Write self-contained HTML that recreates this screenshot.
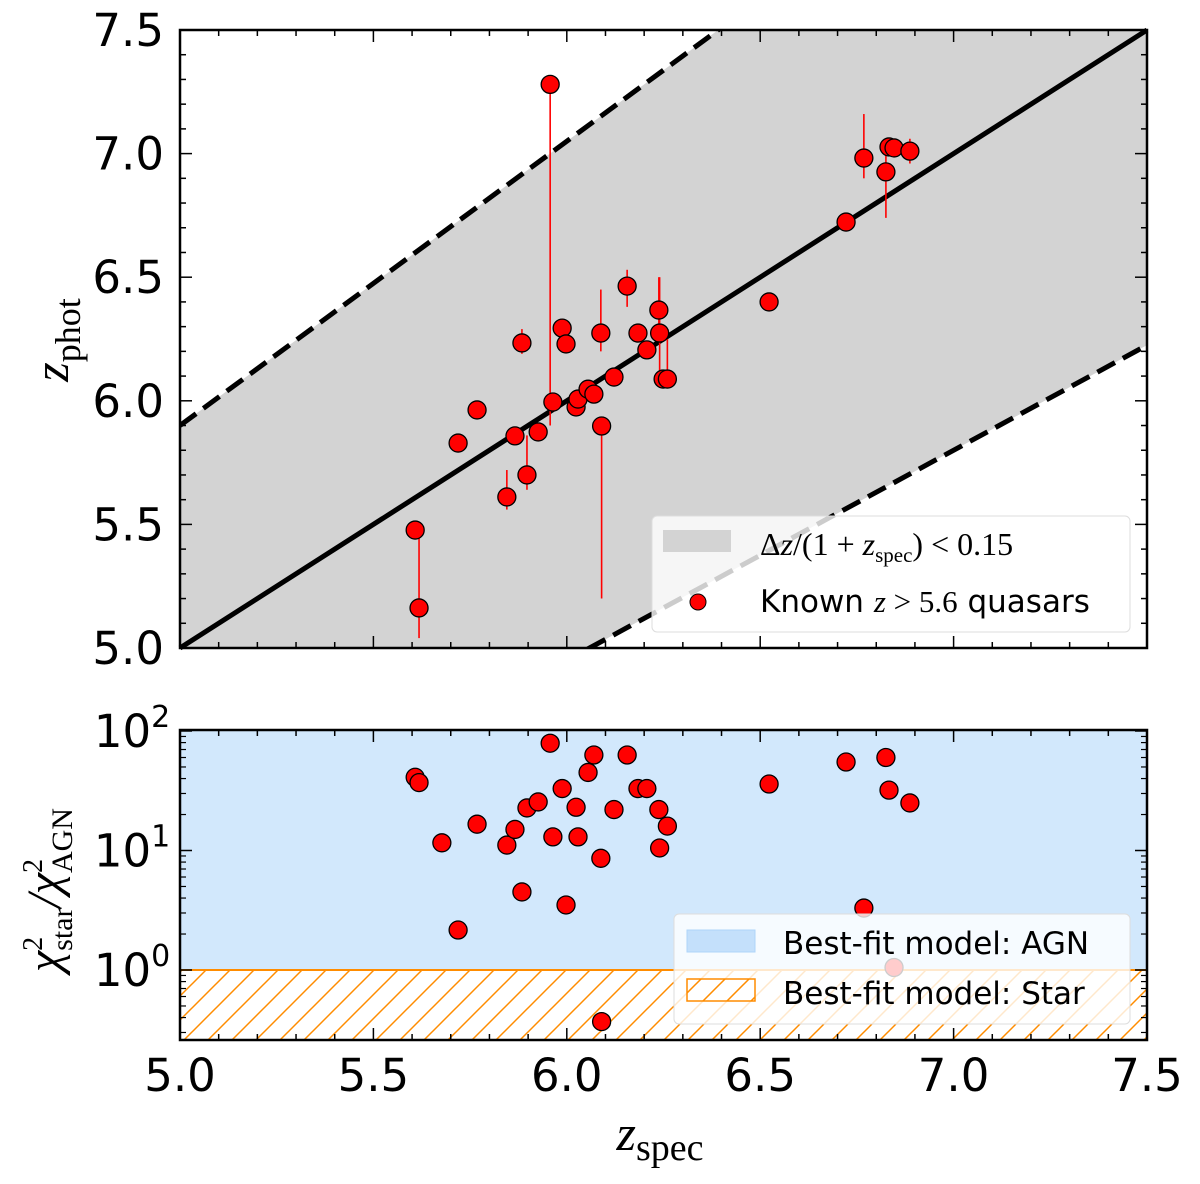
<!DOCTYPE html>
<html><head><meta charset="utf-8"><style>
body{margin:0;background:#fff}
svg text{font-family:"DejaVu Sans","Liberation Sans",sans-serif}
</style></head><body>
<svg id="chart" width="1200" height="1179" viewBox="0 0 1200 1179" xmlns="http://www.w3.org/2000/svg">
<defs>
<pattern id="hatch" patternUnits="userSpaceOnUse" width="24" height="24">
<path d="M0,24 L24,0 M-6,6 L6,-6 M18,30 L30,18" stroke="#ff8c00" stroke-width="1.5"/>
</pattern>
<clipPath id="clipTop"><rect x="180" y="30" width="967" height="618"/></clipPath>
<clipPath id="clipBot"><rect x="180" y="730" width="967" height="310"/></clipPath>
</defs>
<g id="topPanel"></g>
<g id="botPanel"></g>
</svg>
<script>
const zspec = [5.608,5.618,5.719,5.768,5.845,5.866,5.884,5.897,5.926,5.957,5.964,5.988,5.998,6.024,6.029,6.055,6.070,6.088,6.090,6.122,6.156,6.184,6.207,6.238,6.240,6.249,6.260,6.523,6.722,6.768,6.825,6.833,6.846,6.887];
const zphot = [5.477,5.162,5.829,5.963,5.611,5.858,6.234,5.700,5.874,7.280,5.995,6.294,6.230,5.975,6.007,6.047,6.027,6.274,5.898,6.096,6.464,6.274,6.206,6.367,6.274,6.088,6.088,6.400,6.723,6.982,6.926,7.027,7.023,7.010];
const errLo = [5.477,5.040,5.829,5.963,5.560,5.858,6.190,5.640,5.874,5.900,5.995,6.294,6.230,5.975,6.007,6.047,6.027,6.200,5.200,6.096,6.380,6.274,6.206,6.300,6.100,6.088,6.060,6.400,6.723,6.900,6.740,7.027,7.023,6.960];
const errHi = [5.477,5.500,5.829,5.963,5.720,5.858,6.290,5.860,5.874,7.280,5.995,6.294,6.230,5.975,6.007,6.047,6.027,6.450,5.898,6.096,6.530,6.274,6.206,6.500,6.500,6.088,6.250,6.400,6.723,7.160,7.000,7.027,7.023,7.060];
const chiZ = [5.608,5.618,5.719,5.768,5.845,5.866,5.884,5.897,5.926,5.957,5.964,5.988,5.998,6.024,6.029,6.055,6.070,6.088,6.090,6.122,6.156,6.184,6.207,6.238,6.240,5.677,6.260,6.523,6.722,6.768,6.825,6.833,6.846,6.887];
const chiRatio = [41,37,2.16,16.6,11.1,15,4.5,22.7,25.5,79,13,33,3.5,23,13,45,63,8.6,0.37,22,63,33,33,22,10.5,11.6,16,36,55,3.3,60,32,1.05,25];
const xTicks = ["5.0","5.5","6.0","6.5","7.0","7.5"];
const yTicksTop = ["5.0","5.5","6.0","6.5","7.0","7.5"];
const yTicksBotExp = [0,1,2];

const NS="http://www.w3.org/2000/svg";
const X0=180,X1=1147,TY0=30,TY1=648,BY0=730,BY1=1040;
const xs=v=>X0+(v-5)/2.5*(X1-X0);
const yt=v=>TY1-(v-5)/2.5*(TY1-TY0);
const DEC=119.5;
const yb=v=>(BY0+1)+(2-Math.log10(v))*DEC;
const SERIF='font-family:"Liberation Serif","DejaVu Serif",serif;';
function mk(tag,attrs,parent,text){const e=document.createElementNS(NS,tag);for(const k in attrs)e.setAttribute(k,attrs[k]);if(text!==undefined)e.textContent=text;parent.appendChild(e);return e;}
const topG=document.getElementById('topPanel'),botG=document.getElementById('botPanel');

const band=mk('polygon',{points:[[5,5+0.15*6],[7.5,7.5+0.15*8.5],[7.5,7.5-0.15*8.5],[5,5-0.15*6]].map(p=>xs(p[0])+','+yt(p[1])).join(' '),fill:'#d3d3d3','clip-path':'url(#clipTop)'},topG);


const up=mk('line',{x1:xs(5),y1:yt(5.9),x2:xs(7.5),y2:yt(7.5+0.15*8.5),stroke:'#000','stroke-width':5,'stroke-dasharray':'20,9','clip-path':'url(#clipTop)'},topG);


const lo=mk('line',{x1:xs(5),y1:yt(4.1),x2:xs(7.5),y2:yt(7.5-0.15*8.5),stroke:'#000','stroke-width':5,'stroke-dasharray':'20,9','clip-path':'url(#clipTop)'},topG);


const one=mk('line',{x1:xs(5),y1:yt(5),x2:xs(7.5),y2:yt(7.5),stroke:'#000','stroke-width':5},topG);


for(let i=0;i<zspec.length;i++){
  const e=mk('line',{x1:xs(zspec[i]),x2:xs(zspec[i]),y1:yt(errLo[i]),y2:yt(errHi[i]),stroke:'#f00','stroke-width':1.6},topG);
  
  
}
for(let i=0;i<zspec.length;i++){
  const c=mk('circle',{cx:xs(zspec[i]),cy:yt(zphot[i]),r:9,fill:'#f00',stroke:'#000','stroke-width':1.3},topG);
  
  
}
const lg=mk('g',{},topG);


mk('rect',{x:652,y:516,width:478,height:116,rx:5,fill:'#fff','fill-opacity':0.8,stroke:'#ddd'},lg);
mk('rect',{x:663,y:530,width:68,height:22,fill:'#d3d3d3'},lg);
const l1=mk('text',{x:760,y:555,'font-size':32,style:SERIF},lg);
l1.innerHTML='Δ<tspan font-style="italic">z</tspan>/(1 + <tspan font-style="italic">z</tspan><tspan font-size="21" dy="7">spec</tspan><tspan dy="-7">) &lt; 0.15</tspan>';
mk('circle',{cx:698,cy:602,r:8,fill:'#f00',stroke:'#000','stroke-width':1},lg);
const l2=mk('text',{x:760,y:612,'font-size':31},lg);
l2.innerHTML='Known <tspan style=\'font-family:"Liberation Serif",serif\' font-style="italic">z</tspan><tspan style=\'font-family:"Liberation Serif",serif\'> &gt; 5.6</tspan> quasars';
const ft=mk('rect',{x:X0,y:TY0,width:X1-X0,height:TY1-TY0,fill:'none',stroke:'#000','stroke-width':2.5},topG);



const agn=mk('rect',{x:X0,y:BY0,width:X1-X0,height:yb(1)-BY0,fill:'#d2e8fc'},botG);


const star=mk('rect',{x:X0,y:yb(1),width:X1-X0,height:BY1-yb(1),fill:'url(#hatch)'},botG);


mk('line',{x1:X0,x2:X1,y1:yb(1),y2:yb(1),stroke:'#ff8c00','stroke-width':2},botG);
for(let i=0;i<chiZ.length;i++){
  const c=mk('circle',{cx:xs(chiZ[i]),cy:yb(chiRatio[i]),r:9,fill:'#f00',stroke:'#000','stroke-width':1.3,'clip-path':'url(#clipBot)'},botG);
  
  
}
const lb=mk('g',{},botG);


mk('rect',{x:674,y:914,width:456,height:110,rx:5,fill:'#fff','fill-opacity':0.8,stroke:'#ddd'},lb);
mk('rect',{x:687,y:930,width:68,height:22,fill:'#c4e0fb',stroke:'#aed4fa'},lb);
mk('text',{x:783,y:954,'font-size':31},lb,'Best-fit model: AGN');
mk('rect',{x:687,y:979,width:68,height:22,fill:'url(#hatch)',stroke:'#ff8c00','stroke-width':1.5},lb);
mk('text',{x:783,y:1004,'font-size':31},lb,'Best-fit model: Star');
const fb=mk('rect',{x:X0,y:BY0,width:X1-X0,height:BY1-BY0,fill:'none',stroke:'#000','stroke-width':2.5},botG);



for(let k=0;k<=25;k++){
  const v=5+k*0.1;
  const maj=(k%5===0);const L=maj?12:6;const x=xs(v);
  mk('line',{x1:x,x2:x,y1:TY1,y2:TY1-L,stroke:'#000','stroke-width':1.5},topG);
  mk('line',{x1:x,x2:x,y1:TY0,y2:TY0+L,stroke:'#000','stroke-width':1.5},topG);
  mk('line',{x1:x,x2:x,y1:BY1,y2:BY1-L,stroke:'#000','stroke-width':1.5},botG);
  mk('line',{x1:x,x2:x,y1:BY0,y2:BY0+L,stroke:'#000','stroke-width':1.5},botG);
  const y=yt(v);
  mk('line',{x1:X0,x2:X0+L,y1:y,y2:y,stroke:'#000','stroke-width':1.5},topG);
  mk('line',{x1:X1,x2:X1-L,y1:y,y2:y,stroke:'#000','stroke-width':1.5},topG);
}
yTicksTop.forEach(t=>{const e=mk('text',{x:164,y:yt(+t)+16,'font-size':45,'text-anchor':'end'},topG,t);
  
  });
const ylab=mk('text',{x:0,y:0,transform:'translate(68,340) rotate(-90)','text-anchor':'middle',style:SERIF},topG);


ylab.innerHTML='<tspan font-style="italic" font-size="50">z</tspan><tspan font-size="36" dy="12">phot</tspan>';

yTicksBotExp.forEach(p=>{const y=yb(Math.pow(10,p));
  mk('line',{x1:X0,x2:X0+12,y1:y,y2:y,stroke:'#000','stroke-width':1.5},botG);
  mk('line',{x1:X1,x2:X1-12,y1:y,y2:y,stroke:'#000','stroke-width':1.5},botG);
  const t=mk('text',{x:132,y:y+16,'font-size':45,'text-anchor':'middle'},botG);
  
  
  t.innerHTML='10<tspan font-size="30" dy="-20">'+p+'</tspan>';});
for(let p=-1;p<2;p++)for(let m=2;m<10;m++){const v=m*Math.pow(10,p);if(v<0.26)continue;const y=yb(v);
  mk('line',{x1:X0,x2:X0+6,y1:y,y2:y,stroke:'#000','stroke-width':1.2},botG);
  mk('line',{x1:X1,x2:X1-6,y1:y,y2:y,stroke:'#000','stroke-width':1.2},botG);}
xTicks.forEach(t=>{const e=mk('text',{x:xs(+t),y:1091,'font-size':45,'text-anchor':'middle'},botG,t);
  
  });
const xl=mk('text',{x:660,y:1150,'text-anchor':'middle',style:SERIF},botG);


xl.innerHTML='<tspan font-style="italic" font-size="50">z</tspan><tspan font-size="38" dy="10">spec</tspan>';
const yl2=mk('text',{x:0,y:0,transform:'translate(60,890) rotate(-90)','text-anchor':'middle',style:SERIF},botG);


yl2.innerHTML='<tspan font-style="italic" font-size="48">χ</tspan><tspan font-size="28" dy="-18">2</tspan><tspan font-size="30" dx="-14" dy="30">star</tspan><tspan font-style="italic" font-size="48" dy="-12">/χ</tspan><tspan font-size="28" dy="-18">2</tspan><tspan font-size="30" dx="-14" dy="30">AGN</tspan>';
</script>
</body></html>
